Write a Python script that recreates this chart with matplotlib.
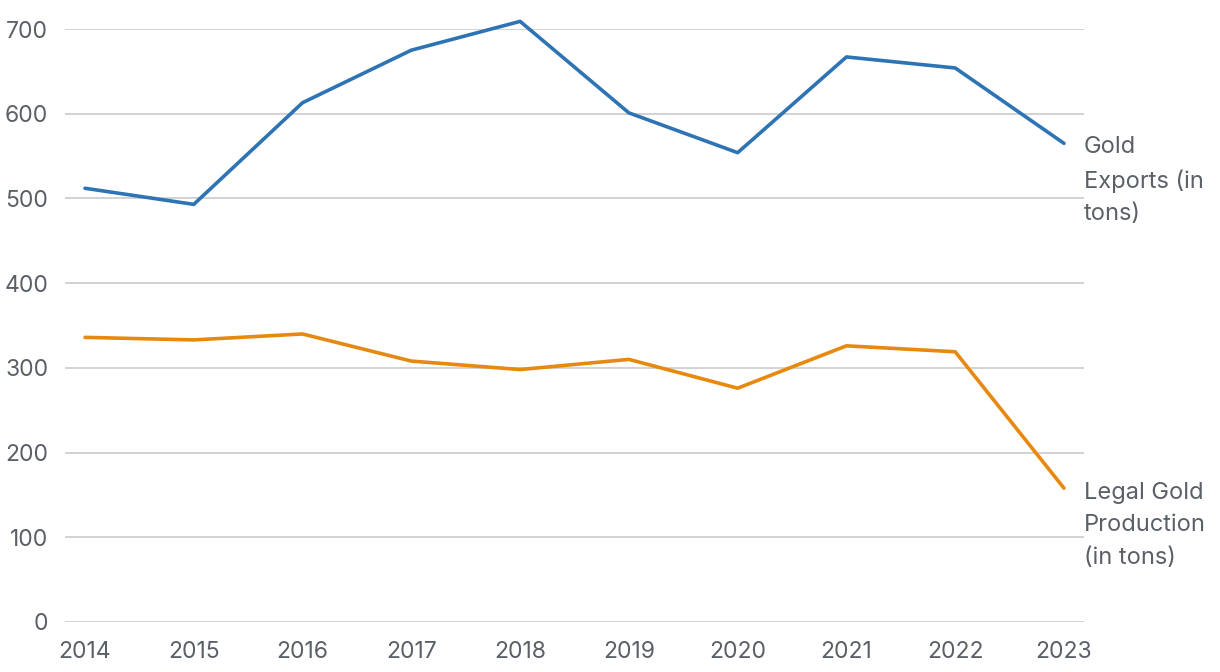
import matplotlib
matplotlib.use("Agg")
import matplotlib.pyplot as plt

years = [2014, 2015, 2016, 2017, 2018, 2019, 2020, 2021, 2022, 2023]
gold_exports = [512, 493, 613, 675, 709, 601, 554, 667, 654, 565]
legal_production = [336, 333, 340, 308, 298, 310, 276, 326, 319, 158]
yticks = [0, 100, 200, 300, 400, 500, 600, 700]
label_exports = "Gold\nExports (in\ntons)"
label_production = "Legal Gold\nProduction\n(in tons)"

plt.rcParams['font.family'] = ['Inter', 'DejaVu Sans']
text_color = '#5b6068'
blue = '#2e74b5'
orange = '#e8890f'

fig = plt.figure(figsize=(12.2, 6.72), dpi=100)
ax = fig.add_axes([65/1220, 1 - 622/672, (1084 - 65)/1220, (622 - 29)/672])

ax.plot(years, gold_exports, color=blue, lw=2.6, clip_on=False, solid_capstyle='round', zorder=3)
ax.plot(years, legal_production, color=orange, lw=2.6, clip_on=False, solid_capstyle='round', zorder=3)

ax.set_ylim(0, 700)
ax.set_xlim(years[0] - 0.184, years[-1] + 0.184)
ax.set_yticks(yticks)
ax.set_xticks(years)
ax.set_xticklabels([str(y) for y in years])
ax.grid(axis='y', color='#d2d2d2', lw=1.4)
ax.set_axisbelow(True)
for s in ax.spines.values():
    s.set_visible(False)
ax.tick_params(axis='both', length=0, labelsize=16.5, labelcolor=text_color)
ax.tick_params(axis='y', pad=12)
ax.tick_params(axis='x', pad=14)

ax.annotate(label_exports, xy=(years[-1], gold_exports[-1]), xytext=(20, 7),
            textcoords='offset pixels', va='top', ha='left', fontsize=17,
            color=text_color, linespacing=1.6, annotation_clip=False)
ax.annotate(label_production, xy=(years[-1], legal_production[-1]), xytext=(20, 6),
            textcoords='offset pixels', va='top', ha='left', fontsize=17,
            color=text_color, linespacing=1.6, annotation_clip=False)

fig.savefig('out.png', dpi=100)
